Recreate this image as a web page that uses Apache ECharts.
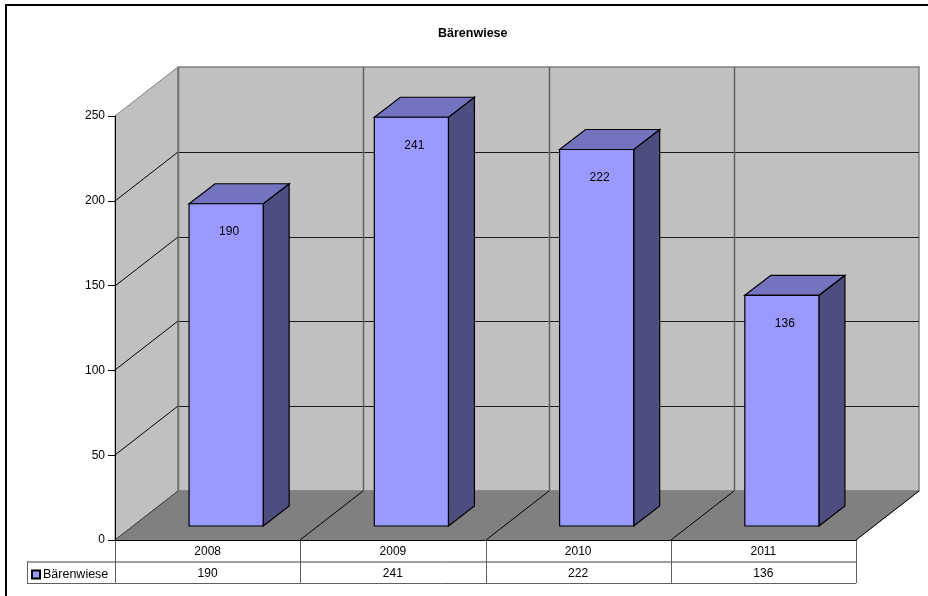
<!DOCTYPE html>
<html><head><meta charset="utf-8">
<style>html,body{margin:0;padding:0;background:#fff}#c{width:928px;height:596px}</style>
<script src="https://cdn.jsdelivr.net/npm/echarts@6/dist/echarts.min.js"></script>
</head><body><div id="c"></div>
<script>
var chartTitle = 'Bärenwiese';
var seriesName = 'Bärenwiese';
var years = ['2008', '2009', '2010', '2011'];
var values = [190, 241, 222, 136];
var yTicks = [0, 50, 100, 150, 200, 250];

var FONT = '"Liberation Sans", Arial, sans-serif';
var DEPTH_X = 63, DEPTH_Y = 49;         // plot depth
var BAR_SHIFT_X = 18.5, BAR_SHIFT_Y = 14; // bar front plane behind the axis plane
var BAR_DX = 26, BAR_DY = 20;           // bar depth
var ROW_H = 21.5;
var LEGEND_W = 88;

var chart = echarts.init(document.getElementById('c'), null, {renderer: 'canvas'});

function poly(pts, fill, stroke, lw) {
  return {type: 'polygon', shape: {points: pts}, style: {fill: fill, stroke: stroke, lineWidth: lw || 1, lineJoin: 'miter'}};
}
function line(x1, y1, x2, y2, stroke, lw) {
  return {type: 'line', shape: {x1: x1, y1: y1, x2: x2, y2: y2}, style: {stroke: stroke, lineWidth: lw || 1}};
}

function renderFrame(params, api) {
  var vMax = yTicks[yTicks.length - 1];
  var band = api.size([1, 0])[0];
  var x0 = api.coord([0, 0])[0] - band / 2;
  var x1 = x0 + band * years.length;
  var y0 = api.coord([0, 0])[1];
  var yT = api.coord([0, vMax])[1];
  var c = [];
  // walls and floor
  c.push(poly([[x0, yT], [x0 + DEPTH_X, yT - DEPTH_Y], [x0 + DEPTH_X, y0 - DEPTH_Y], [x0, y0]], '#C0C0C0', '#808080'));
  c.push(poly([[x0 + DEPTH_X, yT - DEPTH_Y], [x1 + DEPTH_X, yT - DEPTH_Y], [x1 + DEPTH_X, y0 - DEPTH_Y], [x0 + DEPTH_X, y0 - DEPTH_Y]], '#C0C0C0', '#808080', 1.5));
  c.push(poly([[x0, y0], [x0 + DEPTH_X, y0 - DEPTH_Y], [x1 + DEPTH_X, y0 - DEPTH_Y], [x1, y0]], '#808080', '#808080'));
  // horizontal gridlines
  yTicks.forEach(function (t) {
    if (t === 0 || t === vMax) return;
    var y = Math.round(api.coord([0, t])[1]) ;
    c.push(line(x0, y, x0 + DEPTH_X, y - DEPTH_Y, '#000'));
    c.push(line(x0 + DEPTH_X, y - DEPTH_Y + 0.5, x1 + DEPTH_X, y - DEPTH_Y + 0.5, '#1a1a1a'));
  });
  // category separators on back wall and floor
  for (var i = 1; i < years.length; i++) {
    var x = Math.round(x0 + band * i);
    c.push(line(x + DEPTH_X + 0.5, yT - DEPTH_Y, x + DEPTH_X + 0.5, y0 - DEPTH_Y, '#606060', 1.5));
    c.push(line(x, y0, x + DEPTH_X, y0 - DEPTH_Y, '#000'));
  }
  c.push(line(x0 + DEPTH_X + 0.5, yT - DEPTH_Y, x0 + DEPTH_X + 0.5, y0 - DEPTH_Y, '#707070', 1.5));
  c.push(line(x0, y0, x0 + DEPTH_X, y0 - DEPTH_Y, '#404040'));
  c.push(line(x1, y0, x1 + DEPTH_X, y0 - DEPTH_Y, '#000'));
  // data table grid
  var r1 = y0 + ROW_H, r2 = y0 + 2 * ROW_H;
  c.push(line(x0 - LEGEND_W, r1 + 0.5, x1, r1 + 0.5, '#404040'));
  c.push(line(x0 - LEGEND_W, r2 + 0.5, x1, r2 + 0.5, '#606060'));
  c.push(line(x0 - LEGEND_W + 0.5, r1, x0 - LEGEND_W + 0.5, r2, '#606060'));
  for (var j = 0; j <= years.length; j++) {
    var xx = Math.round(x0 + band * j) + 0.5;
    c.push(line(xx, y0, xx, r2, '#606060'));
  }
  return {type: 'group', children: c};
}

function renderBar(params, api) {
  var cat = api.value(0), val = api.value(1);
  var band = api.size([1, 0])[0];
  var w = band * 0.4;
  var base = api.coord([cat, 0]);
  var top = api.coord([cat, val]);
  var l = base[0] + BAR_SHIFT_X - w / 2, r = l + w;
  var b = base[1] - BAR_SHIFT_Y, t = top[1] - BAR_SHIFT_Y;
  var c = [
    poly([[r, t], [r + BAR_DX, t - BAR_DY], [r + BAR_DX, b - BAR_DY], [r, b]], '#4D4D80', '#000', 1.2),
    poly([[l, t], [l + BAR_DX, t - BAR_DY], [r + BAR_DX, t - BAR_DY], [r, t]], '#7373BF', '#000', 1.2),
    {type: 'rect', shape: {x: l, y: t, width: w, height: b - t}, style: {fill: '#9999FF', stroke: '#000', lineWidth: 1.2}},
    {type: 'text', style: {text: String(val), x: (l + r) / 2 + 3, y: t + 28, align: 'center', verticalAlign: 'middle', font: '12px ' + FONT, fill: '#000'}},
    {type: 'text', style: {text: String(val), x: base[0], y: base[1] + ROW_H * 1.5 + 1, align: 'center', verticalAlign: 'middle', font: '12px ' + FONT, fill: '#000'}}
  ];
  return {type: 'group', children: c};
}

chart.setOption({
  animation: false,
  backgroundColor: '#fff',
  title: {
    text: chartTitle, left: 438, top: 27, padding: 0,
    textStyle: {fontFamily: FONT, fontSize: 12.5, fontWeight: 'bold', color: '#000'}
  },
  legend: {
    data: [{name: seriesName, icon: 'rect'}],
    left: 31, top: 568, padding: 0, itemWidth: 8, itemHeight: 8, itemGap: 3,
    textStyle: {fontFamily: FONT, fontSize: 12.5, color: '#000', padding: [2, 0, 0, -2]},
    selectedMode: false
  },
  grid: {left: 115, right: 72, top: 116, height: 424, containLabel: false},
  xAxis: {
    type: 'category', data: years, z: 5,
    axisLine: {lineStyle: {color: '#000', width: 1}},
    axisTick: {show: false},
    axisLabel: {fontFamily: FONT, fontSize: 12, color: '#000', margin: 6},
    splitLine: {show: false}
  },
  yAxis: {
    type: 'value', min: 0, max: 250, interval: 50, z: 5,
    axisLine: {show: true, lineStyle: {color: '#000', width: 1}},
    axisTick: {show: true, length: 7, lineStyle: {color: '#000'}},
    axisLabel: {fontFamily: FONT, fontSize: 12, color: '#000', margin: 10},
    splitLine: {show: false}
  },
  series: [
    {type: 'custom', name: 'frame', silent: true, clip: false, z: 1, renderItem: renderFrame, data: [[0, 0]], encode: {x: 0, y: 1}},
    {type: 'custom', name: seriesName, clip: false, z: 2, renderItem: renderBar,
      itemStyle: {color: '#9999FF', borderColor: '#000', borderWidth: 1},
      encode: {x: 0, y: 1},
      data: values.map(function (v, i) { return [i, v]; })}
  ],
  graphic: [
    {type: 'line', silent: true, shape: {x1: 6, y1: 5, x2: 6, y2: 596}, style: {stroke: '#000', lineWidth: 2}},
    {type: 'line', silent: true, shape: {x1: 5, y1: 5, x2: 928, y2: 5}, style: {stroke: '#000', lineWidth: 2}}
  ]
});
</script></body></html>
